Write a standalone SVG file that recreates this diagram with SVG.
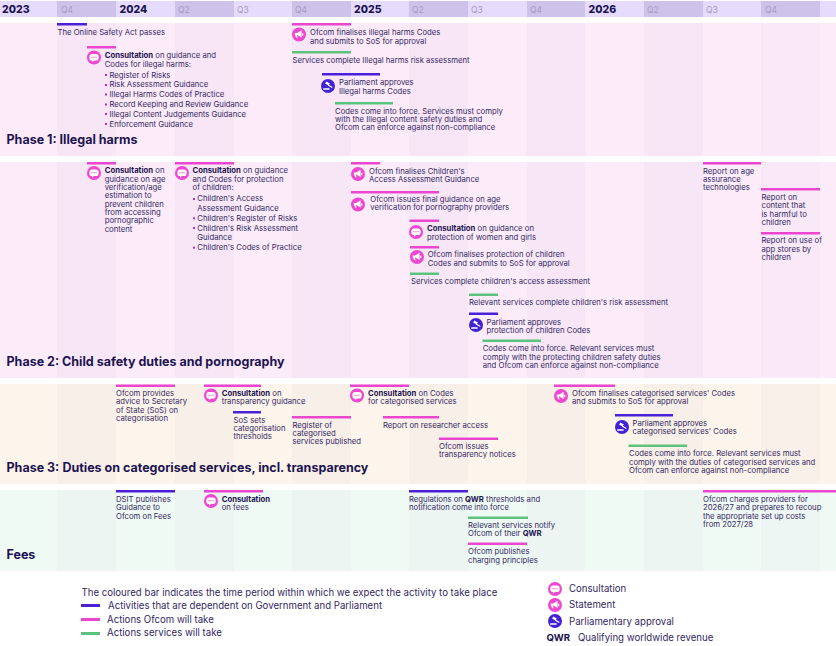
<svg xmlns="http://www.w3.org/2000/svg" width="836" height="646" viewBox="0 0 836 646">
<style>
text{font-family:"Inter","Liberation Sans",sans-serif;fill:#332862}
.t{font-size:7.72px}
.b{font-weight:700;fill:#1c1450}
.y{font-size:10.5px;font-weight:800;fill:#1c1450}
.q{font-size:8.5px;fill:#a59cc2}
.h{font-size:12.5px;font-weight:700;fill:#1c1450}
.l{font-size:9.65px}
.p{fill:#ea46d0}
.u{fill:#4a20d8}
.g{fill:#5cc37c}
.d{fill:#2a1a60;opacity:.016}
.k{fill:#c33fc8}
</style>
<defs>
<g id="ic"><circle r="7" fill="#ee48d0"/><rect x="-4.6" y="-3.4" width="9.2" height="6.4" rx="2.6" fill="#fff"/><path d="M-2 2.5v2.3l2.6-2.3z" fill="#fff"/><circle cx="-2" cy="-.3" r=".6" fill="#ee48d0"/><circle cy="-.3" r=".6" fill="#ee48d0"/><circle cx="2" cy="-.3" r=".6" fill="#ee48d0"/></g>
<g id="is"><circle r="7" fill="#ee48d0"/><path d="M-4.2-1.6h2.4l4.4-2.6v7.2l-4.4-2.4h-.4l.8 2.6h-1.5l-1-2.6h-.3z" fill="#fff"/><rect x="3.1" y="-1.2" width="1.2" height="2.4" fill="#fff"/></g>
<g id="ip"><circle r="7" fill="#4322d4"/><path d="M-1.6-4.6l3.4 2-1.3 2.1-3.4-2z" fill="#fff"/><path d="M.4-1.4l4.2 2.3-.6 1-4.2-2.3z" fill="#fff"/><rect x="-4.8" y="2.2" width="6.4" height="1.6" rx=".5" fill="#fff"/></g>
<rect id="db" width="2" height="2" fill="#a435c8"/>
</defs>

<g id="bands">
<rect x="0" y="1" width="836" height="16" fill="#e5dbfc"/>
<g fill="#cdc2ea"><rect x="57" y="1" width="59" height="16"/><rect x="175" y="1" width="59" height="16"/><rect x="292" y="1" width="59" height="16"/><rect x="409" y="1" width="59" height="16"/><rect x="527" y="1" width="58" height="16"/><rect x="644" y="1" width="59" height="16"/><rect x="761" y="1" width="59" height="16"/></g>
<rect x="0" y="23" width="836" height="133" fill="#fdebf9"/>
<rect x="0" y="162" width="836" height="216" fill="#fcecfa"/>
<rect x="0" y="384" width="836" height="100" fill="#fdf4ec"/>
<rect x="0" y="490" width="836" height="81" fill="#f0faf5"/>
<g class="d"><rect x="57" y="23" width="59" height="548"/><rect x="175" y="23" width="59" height="548"/><rect x="292" y="23" width="59" height="548"/><rect x="409" y="23" width="59" height="548"/><rect x="527" y="23" width="58" height="548"/><rect x="644" y="23" width="59" height="548"/><rect x="761" y="23" width="59" height="548"/></g>
<rect x="0" y="156" width="836" height="6" fill="#fff"/><rect x="0" y="378" width="836" height="6" fill="#fff"/><rect x="0" y="484" width="836" height="6" fill="#fff"/>
</g>

<g id="header">
<text class="y" x="2" y="13">2023</text><text class="q" x="61" y="12.5">Q4</text>
<text class="y" x="119.500" y="13">2024</text><text class="q" x="178" y="12.500">Q2</text><text class="q" x="237" y="12.500">Q3</text><text class="q" x="295" y="12.500">Q4</text>
<text class="y" x="354" y="13">2025</text><text class="q" x="412" y="12.500">Q2</text><text class="q" x="471" y="12.500">Q3</text><text class="q" x="530" y="12.500">Q4</text>
<text class="y" x="588.500" y="13">2026</text><text class="q" x="647" y="12.500">Q2</text><text class="q" x="706" y="12.500">Q3</text><text class="q" x="765" y="12.500">Q4</text>
</g>

<g id="titles">
<text class="h" x="6.500" y="144">Phase 1: Illegal harms</text>
<text class="h" x="6.500" y="366">Phase 2: Child safety duties and pornography</text>
<text class="h" x="6.500" y="472">Phase 3: <tspan x="62.400">Duties on categorised services, incl. transparency</tspan></text>
<text class="h" x="6.500" y="559">Fees</text>
</g>

<g id="connectors"></g>

<g id="n-osa"><rect class="u" x="57" y="23" width="30" height="2.500"/><text class="t" x="57.500" y="35">The Online Safety Act passes</text></g>
<g id="n-illegal-consult"><rect class="p" x="87" y="46" width="29" height="2.500"/><use href="#ic" x="94" y="57.500"/>
<text class="t" x="104.700" y="58"><tspan class="b">Consultation</tspan> on guidance and</text><text class="t" x="104.700" y="66.500">Codes for illegal harms:</text>
<g class="k"><use href="#db" x="105" y="74"/><use href="#db" x="105" y="84"/><use href="#db" x="105" y="93.500"/><use href="#db" x="105" y="103.500"/><use href="#db" x="105" y="113"/><use href="#db" x="105" y="123"/></g>
<text class="t" x="109.500" y="77.500">Register of Risks</text><text class="t" x="109.500" y="87.300">Risk Assessment Guidance</text><text class="t" x="109.500" y="97">Illegal Harms Codes of Practice</text><text class="t" x="109.500" y="107">Record Keeping and Review Guidance</text><text class="t" x="109.500" y="116.500">Illegal Content Judgements Guidance</text><text class="t" x="109.500" y="126.500">Enforcement Guidance</text></g>
<g id="n-illegal-final"><rect class="p" x="292" y="23" width="59" height="2.500"/><use href="#is" x="299" y="34.500"/><text class="t" x="310" y="35">Ofcom finalises illegal harms Codes</text><text class="t" x="310" y="43.500">and submits to SoS for approval</text></g>
<g id="n-illegal-risk"><rect class="g" x="292" y="51" width="59" height="2.500"/><text class="t" x="292.500" y="62.500">Services complete Illegal harms risk assessment</text></g>
<g id="n-illegal-parl"><rect class="u" x="322" y="73" width="58" height="2.500"/><use href="#ip" x="328" y="86"/><text class="t" x="339" y="85">Parliament approves</text><text class="t" x="339" y="93.500">Illegal harms Codes</text></g>
<g id="n-illegal-force"><rect class="g" x="335" y="102" width="58" height="2.500"/><text class="t" x="335" y="113.500">Codes come into force. Services must comply</text><text class="t" x="335" y="122">with the Illegal content safety duties and</text><text class="t" x="335" y="130">Ofcom can enforce against non-compliance</text></g>

<g id="n-age-consult"><rect class="p" x="87" y="162" width="29" height="2.500"/><use href="#ic" x="94" y="173"/>
<text class="t" x="104.700" y="173.400"><tspan class="b">Consultation</tspan> on</text><text class="t" x="104.700" y="181.700">guidance on age</text><text class="t" x="104.700" y="190">verification/age</text><text class="t" x="104.700" y="198.400">estimation to</text><text class="t" x="104.700" y="206.700">prevent children</text><text class="t" x="104.700" y="215">from accessing</text><text class="t" x="104.700" y="223.400">pornographic</text><text class="t" x="104.700" y="231.700">content</text></g>
<g id="n-children-consult"><rect class="p" x="175" y="162" width="59" height="2.500"/><use href="#ic" x="182" y="173"/>
<text class="t" x="192.500" y="173.400"><tspan class="b">Consultation</tspan> on guidance</text><text class="t" x="192.500" y="181.700">and Codes for protection</text><text class="t" x="192.500" y="190">of children:</text>
<g class="k"><use href="#db" x="193" y="198"/><use href="#db" x="193" y="217.300"/><use href="#db" x="193" y="227"/><use href="#db" x="193" y="246.700"/></g>
<text class="t" x="197.300" y="201.400">Children's Access</text><text class="t" x="197.300" y="211">Assessment Guidance</text><text class="t" x="197.300" y="221">Children's Register of Risks</text><text class="t" x="197.300" y="230.700">Children's Risk Assessment</text><text class="t" x="197.300" y="240.400">Guidance</text><text class="t" x="197.300" y="250.400">Children's Codes of Practice</text></g>
<g id="n-access-final"><rect class="p" x="351" y="162" width="29" height="2.500"/><use href="#is" x="358" y="174"/><text class="t" x="369" y="173.500">Ofcom finalises Children's</text><text class="t" x="369" y="181.800">Access Assessment Guidance</text></g>
<g id="n-age-final"><rect class="p" x="351" y="191" width="88" height="2.500"/><use href="#is" x="358" y="204.500"/><text class="t" x="370.300" y="202">Ofcom issues final guidance on age</text><text class="t" x="370.300" y="210.300">verification for pornography providers</text></g>
<g id="n-women"><rect class="p" x="409.500" y="219.500" width="29.500" height="2.500"/><use href="#ic" x="416" y="232"/><text class="t" x="427" y="231"><tspan class="b">Consultation</tspan> on guidance on</text><text class="t" x="427" y="239.500">protection of women and girls</text></g>
<g id="n-children-final"><rect class="p" x="410" y="246" width="29" height="2.500"/><use href="#is" x="417" y="257"/><text class="t" x="427.700" y="257">Ofcom finalises protection of children</text><text class="t" x="427.700" y="265.500">Codes and submits to SoS for approval</text></g>
<g id="n-children-access"><rect class="g" x="410" y="272.500" width="29" height="2.500"/><text class="t" x="411" y="284">Services complete children's access assessment</text></g>
<g id="n-children-risk"><rect class="g" x="469" y="293.500" width="29" height="2.500"/><text class="t" x="469" y="305">Relevant services complete children's risk assessment</text></g>
<g id="n-children-parl"><rect class="u" x="469" y="312.500" width="29" height="2.500"/><use href="#ip" x="476" y="325"/><text class="t" x="486.500" y="324.500">Parliament approves</text><text class="t" x="486.500" y="333">protection of children Codes</text></g>
<g id="n-children-force"><rect class="g" x="482.500" y="339.500" width="58.500" height="2.500"/><text class="t" x="482.700" y="351">Codes come into force. Relevant services must</text><text class="t" x="482.700" y="359.500">comply with the protecting children safety duties</text><text class="t" x="482.700" y="367.700">and Ofcom can enforce against non-compliance</text></g>
<g id="n-report-age"><rect class="p" x="703" y="162" width="58" height="2.500"/><text class="t" x="703" y="173.500">Report on age</text><text class="t" x="703" y="181.800">assurance</text><text class="t" x="703" y="190">technologies</text></g>
<g id="n-report-harm"><rect class="p" x="761" y="188" width="59" height="2.500"/><text class="t" x="761.500" y="199.800">Report on</text><text class="t" x="761.500" y="208">content that</text><text class="t" x="761.500" y="216.500">is harmful to</text><text class="t" x="761.500" y="225">children</text></g>
<g id="n-report-app"><rect class="p" x="761" y="232" width="59" height="2.500"/><text class="t" x="761.500" y="243">Report on use of</text><text class="t" x="761.500" y="251.500">app stores by</text><text class="t" x="761.500" y="260">children</text></g>

<g id="n-advice"><rect class="p" x="116" y="384.500" width="59" height="2.500"/><text class="t" x="116" y="396">Ofcom provides</text><text class="t" x="116" y="404.400">advice to Secretary</text><text class="t" x="116" y="412.700">of State (SoS) on</text><text class="t" x="116" y="421">categorisation</text></g>
<g id="n-transparency"><rect class="p" x="204" y="384.500" width="57" height="2.500"/><use href="#ic" x="211" y="395.500"/><text class="t" x="221.700" y="396"><tspan class="b">Consultation</tspan> on</text><text class="t" x="221.700" y="404.400">transparency guidance</text></g>
<g id="n-sos"><rect class="u" x="233" y="411" width="28" height="2.500"/><text class="t" x="233.500" y="422.700">SoS sets</text><text class="t" x="233.500" y="431">categorisation</text><text class="t" x="233.500" y="439.400">thresholds</text></g>
<g id="n-register"><rect class="p" x="292" y="416" width="59" height="2.500"/><text class="t" x="292.500" y="427.700">Register of</text><text class="t" x="292.500" y="436">categorised</text><text class="t" x="292.500" y="444.400">services published</text></g>
<g id="n-cat-consult"><rect class="p" x="350" y="384.500" width="59" height="2.500"/><use href="#ic" x="357" y="395.500"/><text class="t" x="368" y="396"><tspan class="b">Consultation</tspan> on Codes</text><text class="t" x="368" y="404.400">for categorised services</text></g>
<g id="n-researcher"><rect class="p" x="383" y="416" width="56" height="2.500"/><text class="t" x="383" y="427.700">Report on researcher access</text></g>
<g id="n-notices"><rect class="p" x="439" y="437.500" width="59" height="2.500"/><text class="t" x="439" y="448.700">Ofcom issues</text><text class="t" x="439" y="457">transparency notices</text></g>
<g id="n-cat-final"><rect class="p" x="554" y="384.500" width="61" height="2.500"/><use href="#is" x="561" y="396"/><text class="t" x="572" y="396">Ofcom finalises categorised services' Codes</text><text class="t" x="572" y="404.400">and submits to SoS for approval</text></g>
<g id="n-cat-parl"><rect class="u" x="615" y="414" width="58" height="2.500"/><use href="#ip" x="622" y="427"/><text class="t" x="632.500" y="425.700">Parliament approves</text><text class="t" x="632.500" y="434">categorised services' Codes</text></g>
<g id="n-cat-force"><rect class="g" x="628.500" y="444.500" width="58.500" height="2.500"/><text class="t" x="629" y="456.400">Codes come into force. Relevant services must</text><text class="t" x="629" y="464.700">comply with the duties of categorised services and</text><text class="t" x="629" y="473">Ofcom can enforce against non-compliance</text></g>

<g id="n-dsit"><rect class="u" x="116" y="490" width="59" height="2.500"/><text class="t" x="116" y="502">DSIT publishes</text><text class="t" x="116" y="510.400">Guidance to</text><text class="t" x="116" y="518.700">Ofcom on Fees</text></g>
<g id="n-fees-consult"><rect class="p" x="204" y="490" width="59" height="2.500"/><use href="#ic" x="211" y="501"/><text class="t b" x="221.700" y="502">Consultation</text><text class="t" x="221.700" y="510.400">on fees</text></g>
<g id="n-qwr-reg"><rect class="u" x="409" y="490" width="59" height="2.500"/><text class="t" x="409" y="502">Regulations on <tspan class="b">QWR</tspan> thresholds and</text><text class="t" x="409" y="510.400">notification come into force</text></g>
<g id="n-qwr-notify"><rect class="g" x="468" y="516.500" width="60" height="2.500"/><text class="t" x="468" y="527.700">Relevant services notify</text><text class="t" x="468" y="536">Ofcom of their <tspan class="b">QWR</tspan></text></g>
<g id="n-charging"><rect class="p" x="468" y="542.500" width="59" height="2.500"/><text class="t" x="468" y="554.400">Ofcom publishes</text><text class="t" x="468" y="562.700">charging principles</text></g>
<g id="n-charges"><rect class="p" x="703" y="490" width="133" height="2.500"/><text class="t" x="703" y="502">Ofcom charges providers for</text><text class="t" x="703" y="510.400">2026/27 and prepares to recoup</text><text class="t" x="703" y="518.700">the appropriate set up costs</text><text class="t" x="703" y="526.700">from 2027/28</text></g>

<g id="legend">
<text class="l" x="81.500" y="595.500">The coloured bar indicates the time period within which we expect the activity to take place</text>
<rect class="u" x="81" y="604" width="19" height="3"/><text class="l" x="108" y="608.500">Activities that are dependent on Government and Parliament</text>
<rect class="p" x="81" y="618" width="19" height="3"/><text class="l" x="107" y="622.500">Actions Ofcom will take</text>
<rect class="g" x="81" y="632" width="19" height="3"/><text class="l" x="107" y="636">Actions services will take</text>
<use href="#ic" x="555" y="589"/><text class="l" x="569" y="592">Consultation</text>
<use href="#is" x="555" y="605"/><text class="l" x="569" y="608.300">Statement</text>
<use href="#ip" x="555" y="621"/><text class="l" x="569" y="624.500">Parliamentary approval</text>
<text class="l b" x="546.500" y="641">QWR</text><text class="l" x="578" y="641">Qualifying worldwide revenue</text>
</g>
</svg>
